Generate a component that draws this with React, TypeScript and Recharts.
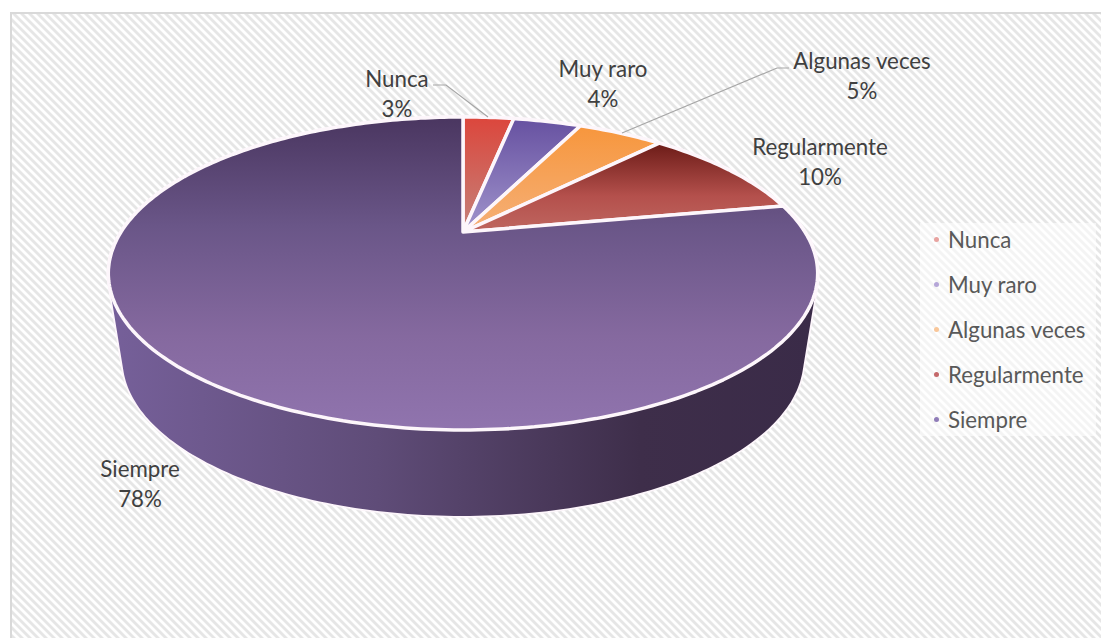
import React from 'react';
import { PieChart, Pie, Legend } from 'recharts';

const categories = ['Nunca', 'Muy raro', 'Algunas veces', 'Regularmente', 'Siempre'];
const percents = [3, 4, 5, 10, 78];
const topGradients = ['topNunca', 'topMuyRaro', 'topAlgunas', 'topRegular', 'topSiempre'];
const legendColors = ['#e8a3a0', '#b5a6d8', '#f9c79a', '#c4686a', '#8f7cb8'];

const chartData = categories.map((name, i) => ({
  name,
  value: percents[i],
  fill: `url(#${topGradients[i]})`,
}));

const WIDTH = 1101;
const HEIGHT = 638;
const CX = 463;
const CY = 232;
const RADIUS = 342;
// tilt of the disc: far edge is smaller than the near edge
const PERSPECTIVE = 0.265;
const SQUASH = 145.5 / 342;
const WALL_DEPTH = 86;
const WALL_SHRINK = 0.96;
const FONT_SIZE = 22.3;

const HATCH =
  "url(\"data:image/svg+xml,%3Csvg xmlns='http://www.w3.org/2000/svg' width='8' height='8'%3E%3Cpath fill='%23e6e6e6' d='M0 0H4L8 4V8ZM0 4L4 8H0Z'/%3E%3C/svg%3E\")";

const labelLayout: Record<string, { x: number; y: number; line?: string }> = {
  Nunca: { x: 397, y: 87, line: '433,85 446,85 488,117' },
  'Muy raro': { x: 603, y: 77 },
  'Algunas veces': { x: 862, y: 69, line: '789,68 777,68 622,133' },
  Regularmente: { x: 820, y: 155 },
  Siempre: { x: 140, y: 477 },
};

function project(cx: number, cy: number, r: number, angle: number) {
  const rad = ((90 - angle) * Math.PI) / 180;
  const u = Math.sin(rad);
  const v = Math.cos(rad);
  const w = 1 + PERSPECTIVE * v;
  return { x: cx + (r * u) / w, y: cy - (r * SQUASH * v) / w };
}

function arcPoints(props: any) {
  const { cx, cy, outerRadius, startAngle, endAngle } = props;
  const steps = Math.max(2, Math.ceil(Math.abs(endAngle - startAngle)));
  const pts = [];
  for (let i = 0; i <= steps; i++) {
    pts.push(project(cx, cy, outerRadius, startAngle + ((endAngle - startAngle) * i) / steps));
  }
  return pts;
}

function TopSlice(props: any) {
  const pts = arcPoints(props);
  const d =
    `M${props.cx},${props.cy} ` + pts.map((p) => `L${p.x.toFixed(1)},${p.y.toFixed(1)}`).join(' ') + ' Z';
  return <path d={d} fill={props.fill} stroke="#fdf6fb" strokeWidth={3.5} strokeLinejoin="round" />;
}

function WallSlice(props: any) {
  const pts = arcPoints(props);
  const lower = pts.map((p) => ({ x: props.cx + (p.x - props.cx) * WALL_SHRINK, y: p.y + WALL_DEPTH }));
  const quads = pts.slice(1).map((p, i) => {
    const q = [pts[i], p, lower[i + 1], lower[i]];
    // same winding for every quad so the overlaps at the sides do not cancel out
    const area = q.reduce((sum, a, j) => {
      const b = q[(j + 1) % 4];
      return sum + a.x * b.y - b.x * a.y;
    }, 0);
    if (area < 0) q.reverse();
    return q.map((a, j) => `${j === 0 ? 'M' : 'L'}${a.x.toFixed(1)},${a.y.toFixed(1)}`).join(' ') + ' Z';
  });
  const d = quads.join(' ');
  return (
    <g>
      <path d={d} fill="none" stroke="#fdf6fb" strokeWidth={3.5} strokeLinejoin="round" />
      <path d={d} fill="url(#wallSide)" />
    </g>
  );
}

function renderLabel(props: any) {
  const layout = labelLayout[props.name];
  return (
    <g key={props.name}>
      {layout.line && <polyline points={layout.line} fill="none" stroke="#a6a6a6" strokeWidth={1.2} />}
      <text x={layout.x} y={layout.y} textAnchor="middle" fontFamily="Lato" fontSize={FONT_SIZE} fill="#404040">
        {props.name}
      </text>
      <text x={layout.x} y={layout.y + 29.5} textAnchor="middle" fontFamily="Lato" fontSize={FONT_SIZE} fill="#404040">
        {props.value}%
      </text>
    </g>
  );
}

function LegendBox() {
  return (
    <div style={{ background: 'rgba(255,255,255,0.55)', width: 176, height: 213 }}>
      <div style={{ transform: 'translateY(-6px)' }}>
        {categories.map((name, i) => (
          <div
            key={name}
            style={{
              display: 'flex',
              alignItems: 'center',
              height: 45,
              fontFamily: 'Lato',
              fontSize: FONT_SIZE,
              color: '#595959',
            }}
          >
            <span
              style={{
                width: 5,
                height: 5,
                borderRadius: 3,
                marginLeft: 14,
                marginRight: 9,
                background: legendColors[i],
              }}
            />
            {name}
          </div>
        ))}
      </div>
    </div>
  );
}

export default function App() {
  return (
    <div style={{ position: 'absolute', left: 0, top: 0, width: WIDTH, height: HEIGHT, background: '#fff' }}>
      <div
        style={{
          position: 'absolute',
          left: 10,
          top: 12,
          right: 0,
          bottom: 0,
          borderLeft: '2px solid #d9d9d9',
          borderTop: '2px solid #d9d9d9',
          backgroundImage: HATCH,
        }}
      />
      <div style={{ position: 'absolute', left: 0, top: 0 }}>
        <PieChart width={WIDTH} height={HEIGHT} margin={{ top: 0, right: 0, bottom: 0, left: 0 }}>
          <defs>
            <linearGradient id="topNunca" gradientUnits="userSpaceOnUse" x1="0" y1="117" x2="0" y2="232">
              <stop offset="0" stopColor="#dc463c" />
              <stop offset="1" stopColor="#c4827a" />
            </linearGradient>
            <linearGradient id="topMuyRaro" gradientUnits="userSpaceOnUse" x1="0" y1="117" x2="0" y2="232">
              <stop offset="0" stopColor="#6650a0" />
              <stop offset="1" stopColor="#a094cc" />
            </linearGradient>
            <linearGradient id="topAlgunas" gradientUnits="userSpaceOnUse" x1="0" y1="125" x2="0" y2="232">
              <stop offset="0" stopColor="#f7963c" />
              <stop offset="1" stopColor="#f5b078" />
            </linearGradient>
            <linearGradient id="topRegular" gradientUnits="userSpaceOnUse" x1="0" y1="142" x2="0" y2="225">
              <stop offset="0" stopColor="#6a1a16" />
              <stop offset="0.65" stopColor="#b4504c" />
              <stop offset="1" stopColor="#bd625c" />
            </linearGradient>
            <linearGradient id="topSiempre" gradientUnits="userSpaceOnUse" x1="0" y1="117" x2="0" y2="430">
              <stop offset="0" stopColor="#4a3660" />
              <stop offset="0.35" stopColor="#6a5688" />
              <stop offset="0.7" stopColor="#85699f" />
              <stop offset="1" stopColor="#9074ae" />
            </linearGradient>
            <linearGradient id="wallSide" gradientUnits="userSpaceOnUse" x1="108" y1="0" x2="817" y2="0">
              <stop offset="0" stopColor="#76609a" />
              <stop offset="0.38" stopColor="#5f4c78" />
              <stop offset="0.75" stopColor="#3e2e4a" />
              <stop offset="1" stopColor="#3a2b48" />
            </linearGradient>
          </defs>
          <Pie
            data={chartData}
            dataKey="value"
            nameKey="name"
            cx={CX}
            cy={CY}
            outerRadius={RADIUS}
            startAngle={90}
            endAngle={-270}
            legendType="none"
            label={false}
            labelLine={false}
            shape={WallSlice}
            isAnimationActive={false}
          />
          <Pie
            data={chartData}
            dataKey="value"
            nameKey="name"
            cx={CX}
            cy={CY}
            outerRadius={RADIUS}
            startAngle={90}
            endAngle={-270}
            label={renderLabel}
            labelLine={false}
            shape={TopSlice}
            isAnimationActive={false}
          />
          <Legend
            layout="vertical"
            content={<LegendBox />}
            wrapperStyle={{ left: 920, top: 223, width: 176, bottom: 'auto', right: 'auto' }}
          />
        </PieChart>
      </div>
    </div>
  );
}
